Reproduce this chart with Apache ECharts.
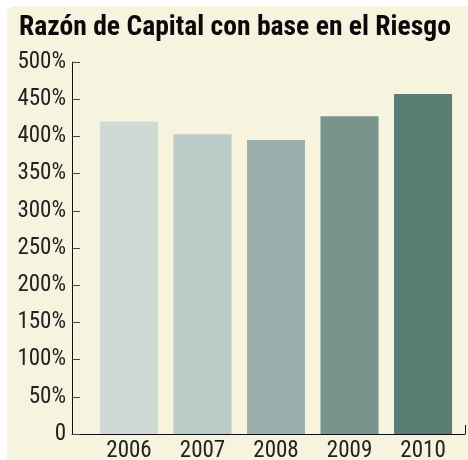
<!DOCTYPE html>
<html>
<head>
<meta charset="utf-8">
<script src="https://cdn.jsdelivr.net/npm/echarts@6/dist/echarts.min.js"></script>
<style>
	html, body { margin: 0; padding: 0; background: #ffffff; }
	#panel { position: absolute; left: 7px; top: 6px; width: 470px; height: 460px; background: #f6f3df; border-radius: 8px; }
	#chart { position: absolute; left: 0; top: 0; width: 468px; height: 460px; }
</style>
</head>
<body>
<div id="panel"></div>
<div id="chart"></div>
<script>
	const titleText = 'Razón de Capital con base en el Riesgo'
	const years = ['2006', '2007', '2008', '2009', '2010']
	const ratios = [420, 403, 395, 427, 457]
	const barColors = ['#cfd9d6', '#bacbc8', '#9aafab', '#79948d', '#587d73']

	const font = '"Roboto Condensed", "DejaVu Sans Condensed", sans-serif'

	let chart = echarts.init(document.getElementById('chart'))

	let seriesData = ratios.map((v, i) => {
		return {
			value: [i, v],
			itemStyle: { color: barColors[i] }
		}
	})

	chart.setOption({
		backgroundColor: 'transparent',
		animation: false,
		title: {
			text: titleText,
			left: 19,
			top: 14,
			padding: 0,
			textStyle: {
				fontFamily: font,
				fontWeight: 'bold',
				fontSize: 27.6,
				color: '#0a0a0a'
			}
		},
		grid: {
			left: 72,
			right: 3,
			top: 62,
			bottom: 26,
			outerBoundsMode: 'none'
		},
		xAxis: {
			type: 'value',
			min: -0.7755,
			max: 4.571,
			splitLine: { show: false },
			axisLine: {
				onZero: false,
				lineStyle: { color: '#111111', width: 1 }
			},
			axisTick: {
				inside: true,
				length: 9,
				customValues: [4.571],
				lineStyle: { color: '#111111' }
			},
			axisLabel: {
				customValues: [0, 1, 2, 3, 4],
				formatter: v => years[Math.round(v)],
				margin: 6,
				fontFamily: font,
				fontSize: 23,
				color: '#222222'
			}
		},
		yAxis: {
			type: 'value',
			min: 0,
			max: 500,
			interval: 50,
			splitLine: { show: false },
			axisLine: {
				show: true,
				onZero: false,
				lineStyle: { color: '#111111', width: 1 }
			},
			axisTick: {
				show: true,
				inside: true,
				length: 8,
				lineStyle: { color: '#444444' }
			},
			axisLabel: {
				margin: 6,
				fontFamily: font,
				fontSize: 23,
				color: '#222222',
				formatter: v => v === 0 ? '0' : v + '%'
			}
		},
		series: [{
			type: 'bar',
			barWidth: 58,
			data: seriesData
		}]
	})
</script>
</body>
</html>
